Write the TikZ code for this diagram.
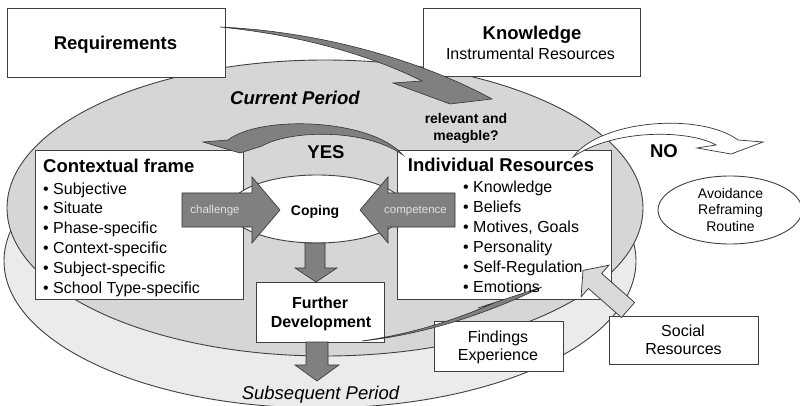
\documentclass[tikz,border=0pt]{standalone}
\usepackage{fontspec}
\setmainfont{Liberation Sans}
\usetikzlibrary{shapes.geometric}
\begin{document}
\begin{tikzpicture}[x=1pt,y=-1pt,
  outl/.style={draw=black!75, line width=0.9pt},
  box/.style={outl, fill=white, inner sep=0pt, rectangle},
  oval/.style={outl, ellipse, inner sep=0pt},
  darkarrow/.style={draw=black!80, line width=0.6pt, fill=black!50},
  lightarrow/.style={draw=black!80, line width=0.7pt, fill=black!15},
  whitearrow/.style={draw=black!80, line width=0.7pt, fill=white},
  bigtitle/.style={font=\fontsize{18.5}{22}\selectfont\bfseries, anchor=base, inner sep=0pt},
  lefttitle/.style={font=\fontsize{18.5}{22}\selectfont\bfseries, anchor=base west, inner sep=0pt},
  plain/.style={font=\fontsize{16}{19}\selectfont, anchor=base, inner sep=0pt},
  bplain/.style={font=\fontsize{16}{19}\selectfont\bfseries, anchor=base, inner sep=0pt},
  item/.style={font=\fontsize{16}{19}\selectfont, anchor=base west, inner sep=0pt},
  small/.style={font=\fontsize{14}{17}\selectfont, anchor=base, inner sep=0pt},
  bsmall/.style={font=\fontsize{14}{17}\selectfont\bfseries, anchor=base, inner sep=0pt},
  tiny/.style={font=\fontsize{11.5}{14}\selectfont, text=black!12, anchor=base, inner sep=0pt},
  period/.style={font=\fontsize{18.5}{22}\selectfont\itshape, anchor=base, inner sep=0pt}
]
\useasboundingbox (0,0) rectangle (800,406);

% period ellipses
\node[oval, fill=black!8, minimum width=632pt, minimum height=294pt] (subsequent) at (320,261) {};
\node[oval, fill=black!16, minimum width=636pt, minimum height=296pt] (current) at (325,208) {};

% top boxes
\node[box, minimum width=218pt, minimum height=69pt] (req) at (116,42.5) {};
\node[box, minimum width=217pt, minimum height=68pt] (know) at (531.5,42) {};

% main boxes
\node[box, minimum width=208pt, minimum height=149pt] (ctx) at (139,224.5) {};
\node[box, minimum width=214pt, minimum height=149pt] (ind) at (504,224.5) {};

% coping ellipse
\node[oval, fill=white, minimum width=176pt, minimum height=68pt] (coping) at (317,209) {};

% further development
\node[box, minimum width=128pt, minimum height=60pt] (further) at (320,312) {};

% block arrows
\draw[darkarrow] (182,193) -- (252,193) -- (252,177) -- (280,210) -- (252,243) -- (252,227) -- (182,227) -- cycle;
\draw[darkarrow] (455,193) -- (388,193) -- (388,177) -- (360,210) -- (388,243) -- (388,227) -- (455,227) -- cycle;
\draw[darkarrow] (305,243) -- (325,243) -- (325,268) -- (337,268) -- (316,282) -- (295,268) -- (305,268) -- cycle;
\draw[darkarrow] (306,342) -- (328,342) -- (328,365) -- (339,365) -- (317,381) -- (295,365) -- (306,365) -- cycle;

% requirements curved arrow
\draw[darkarrow] (220,27) .. controls (330,32) and (430,65) .. (492,99) -- (450,104) -- (393,83) -- (422,81)
   .. controls (370,55) and (300,35) .. (220,27) -- cycle;

% YES curved arrow
\draw[darkarrow] (403,155) .. controls (370,118) and (260,115) .. (228,140) -- (203,142) -- (240,153) -- (262,146)
   .. controls (290,130) and (365,128) .. (403,155) -- cycle;

% lower boxes
\node[box, minimum width=129pt, minimum height=50pt] (findings) at (498.5,346) {};
\node[box, minimum width=149pt, minimum height=48pt] (social) at (683.5,340) {};
\node[oval, fill=white, minimum width=144pt, minimum height=68pt] (avoid) at (730,210) {};

% findings curved arrow
\draw[darkarrow] (362,341) .. controls (430,334) and (495,310) .. (542,287) -- (478,308) -- (494,303)
   .. controls (450,322) and (410,334) .. (362,341) -- cycle;

% social resources arrow
\draw[lightarrow] (621.4,317.5) -- (588.4,288.5) -- (581.1,296.8) -- (583,270.4) -- (608.9,265.2) -- (601.6,273.5) -- (634.6,302.5) -- cycle;

% NO curved arrow
\draw[whitearrow] (573,157) .. controls (600,120) and (700,112) .. (738,140) -- (763,142) -- (731,154) -- (697,148) -- (716,145)
   .. controls (690,130) and (615,128) .. (573,157) -- cycle;

% texts
\node[bigtitle] (treq) at (115.5,50) {Requirements};
\node[bigtitle] (tknow) at (532,40) {Knowledge};
\node[plain] (tinstr) at (530.5,60) {Instrumental Resources};
\node[font=\fontsize{18.5}{22}\selectfont\bfseries\itshape, anchor=base, inner sep=0pt] (tcur) at (295,105) {Current Period};
\node[bigtitle] (tyes) at (326,159) {YES};
\node[bigtitle] (tno) at (664,157.5) {NO};
\node[bsmall] (trel1) at (466,124) {relevant and};
\node[bsmall] (trel2) at (466,140.5) {meagble?};

\node[lefttitle] (tctx) at (43,173) {Contextual frame};
\foreach \t [count=\i from 0] in {Subjective, Situate, Phase-specific, Context-specific, Subject-specific, School Type-specific}
  \node[item] (ctx\i) at (43,{194+19.8*\i}) {• \t};

\node[bigtitle] (tind) at (501,172) {Individual Resources};
\foreach \t [count=\i from 0] in {Knowledge, Beliefs, {Motives, Goals}, Personality, Self-Regulation, Emotions}
  \node[item] (ind\i) at (463,{193+19.8*\i}) {• \t};

\node[bsmall] (tcoping) at (315,215) {Coping};
\node[tiny] (tchal) at (215,214) {challenge};
\node[tiny] (tcomp) at (415.5,214) {competence};

\node[bplain] (tfur1) at (320,308.5) {Further};
\node[bplain] (tfur2) at (321,327) {Development};

\node[plain] (tfind1) at (498,342) {Findings};
\node[plain] (tfind2) at (498,360) {Experience};
\node[plain] (tsoc1) at (683,336) {Social};
\node[plain] (tsoc2) at (683.5,354) {Resources};

\node[small] (tav1) at (730.5,198) {Avoidance};
\node[small] (tav2) at (730.5,214.5) {Reframing};
\node[small] (tav3) at (730.5,231) {Routine};

\node[period] (tsub) at (320.5,399) {Subsequent Period};
\end{tikzpicture}
\end{document}
